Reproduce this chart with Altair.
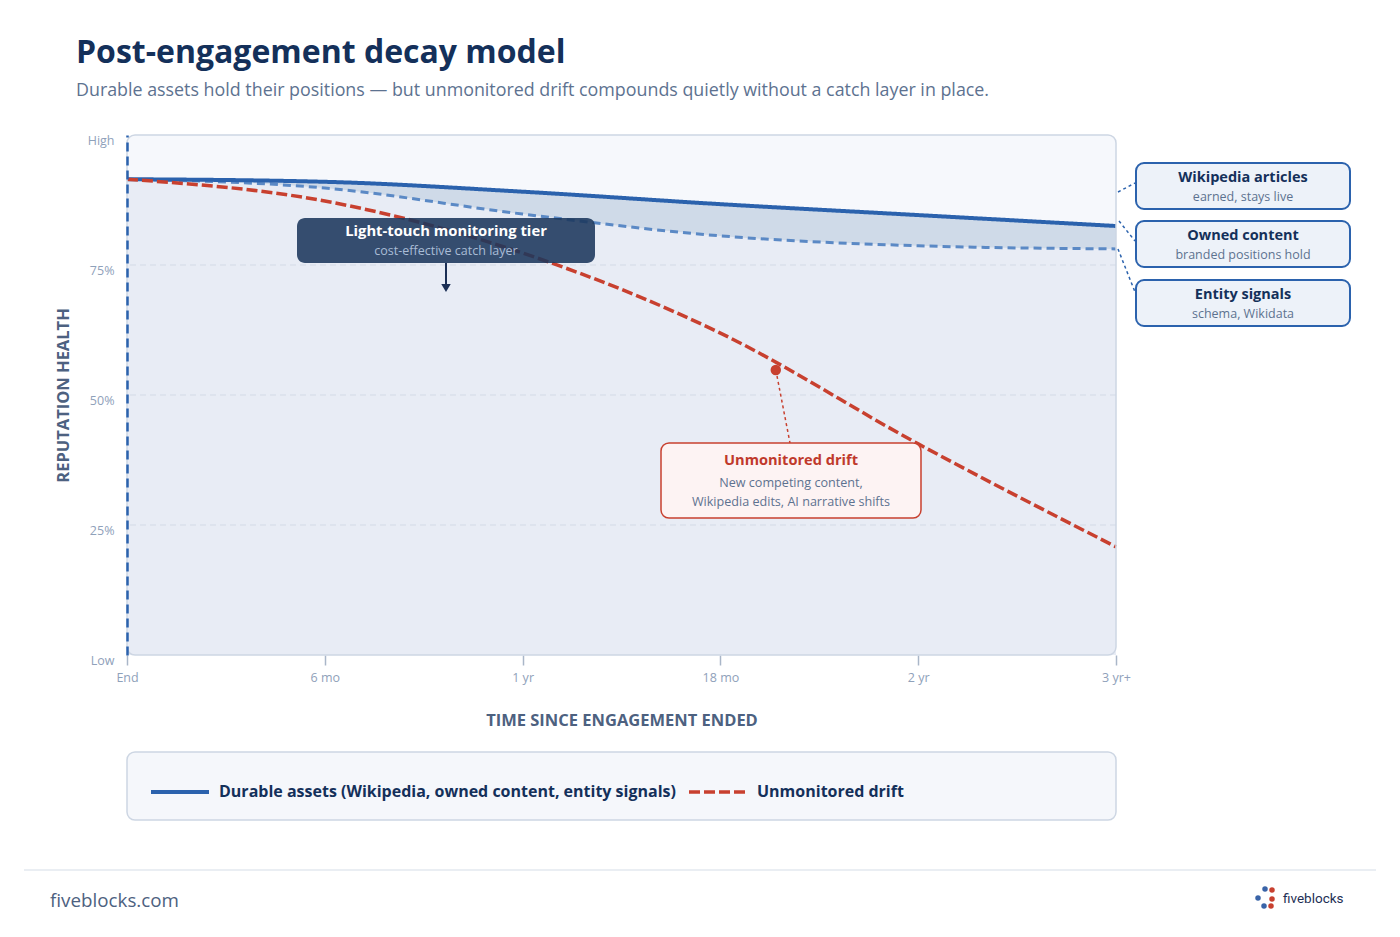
import json
import altair as alt
import pandas as pd

# ---------------- data ----------------
periods = ["End", "6 mo", "1 yr", "18 mo", "2 yr", "3 yr+"]
period_index = [0, 1, 2, 3, 4, 5]
durable = [91.5, 91.0, 89.1, 86.7, 84.6, 82.5]     # Wikipedia articles (solid)
owned = [91.5, 89.8, 84.8, 80.6, 78.7, 78.1]       # owned content / entity signals (light dashed)
drift = [91.5, 87.3, 77.3, 61.9, 40.6, 20.8]       # unmonitored drift (red dashed)
grid_values = [25, 50, 75]
y_ticks = [0, 25, 50, 75, 100]
series_names = ["Durable assets (Wikipedia, owned content, entity signals)", "Unmonitored drift"]
drift_marker_t = [3.28]
drift_marker_v = [54.8]

FONT = "Open Sans"
NAVY = "#14305a"
GRAY = "#5d7290"
BLUE = "#2b62ad"
LBLUE = "#5b89c5"
RED = "#c8402f"

wide = pd.DataFrame({"t": period_index, "durable": durable, "owned": owned, "drift": drift})
long = pd.DataFrame({
    "t": period_index * 2,
    "value": durable + drift,
    "series": [series_names[0]] * 6 + [series_names[1]] * 6,
})
grid_df = pd.DataFrame({"g": grid_values})
marker_df = pd.DataFrame({"t": drift_marker_t, "v": drift_marker_v})
one = alt.Data(values=[{"k": 0}])

W, H = 989, 520

xscale = alt.Scale(domain=[0, 5], nice=False, zero=False)
yscale = alt.Scale(domain=[0, 100], nice=False)

xaxis = alt.Axis(
    title="TIME SINCE ENGAGEMENT ENDED", values=period_index,
    labelExpr=json.dumps(periods) + "[datum.value]",
    labelFlush=False, domain=False, grid=False, ticks=True, tickSize=10,
    tickColor="#a9b6c8", tickWidth=1.5, labelColor="#8fa1ba", labelFontSize=12.5,
    labelFont=FONT, labelPadding=6, titleFont=FONT, titleFontSize=16.5,
    titleFontWeight="bold", titleColor="#4d6180", titlePadding=29,
)
yaxis = alt.Axis(
    title="REPUTATION HEALTH", values=y_ticks,
    labelExpr="datum.value == 100 ? 'High' : datum.value == 0 ? 'Low' : datum.value + '%'",
    labelFlush=False, grid=False, ticks=False, domain=True, domainColor=BLUE,
    domainDash=[9, 5], domainWidth=2.5, labelColor="#8fa1ba", labelFontSize=12.5,
    labelFont=FONT, labelPadding=13, labelOffset=5, titleFont=FONT, titleFontSize=16.5,
    titleFontWeight="bold", titleColor="#4d6180", titlePadding=16, zindex=1,
)


def X(f):
    return alt.X(f"{f}:Q", scale=xscale, axis=xaxis)


def Y(f):
    return alt.Y(f"{f}:Q", scale=yscale, axis=yaxis)


base = alt.Chart(wide)
under = base.mark_area(interpolate="monotone", color="#e8ecf5").encode(x=X("t"), y=Y("durable"))
band = base.mark_area(interpolate="monotone", color="#cfdae8").encode(
    x=X("t"), y=Y("durable"), y2="owned:Q")
grid = alt.Chart(grid_df).mark_rule(color="#d3dae6", strokeWidth=1, strokeDash=[6, 4]).encode(y=Y("g"))
owned_line = base.mark_line(interpolate="monotone", color=LBLUE, strokeWidth=3,
                            strokeDash=[8, 5]).encode(x=X("t"), y=Y("owned"))

legend = alt.Legend(
    orient="none", legendX=22, legendY=626, direction="horizontal", title=None,
    symbolType="stroke", symbolSize=3364, symbolStrokeWidth=4, labelFont=FONT,
    labelFontSize=16, labelFontWeight="bold", labelColor=NAVY, labelLimit=1000,
    labelOffset=8, columnPadding=6, padding=0,
)
lines = alt.Chart(long).mark_line(interpolate="monotone").encode(
    x=X("t"), y=Y("value"),
    color=alt.Color("series:N", scale=alt.Scale(domain=series_names, range=[BLUE, RED]), legend=legend),
    strokeDash=alt.StrokeDash("series:N", scale=alt.Scale(domain=series_names, range=[[1, 0], [11, 4]]), legend=legend),
    strokeWidth=alt.StrokeWidth("series:N", scale=alt.Scale(domain=series_names, range=[4, 3.5]), legend=None),
)

dot = alt.Chart(marker_df).mark_point(filled=True, size=110, color=RED, opacity=1).encode(x=X("t"), y=Y("v"))


def rect(x, x2, y, y2, **kw):
    return alt.Chart(one).mark_rect(**kw).encode(
        x=alt.value(x), x2=alt.value(x2), y=alt.value(y), y2=alt.value(y2))


def seg(x, y, x2, y2, **kw):
    return alt.Chart(one).mark_rule(**kw).encode(
        x=alt.value(x), x2=alt.value(x2), y=alt.value(y), y2=alt.value(y2))


def txt(s, x, y, size, color, weight="normal", align="center", font=FONT):
    return alt.Chart(one).mark_text(
        text=s, font=font, fontSize=size, fontWeight=weight, color=color,
        align=align, baseline="alphabetic").encode(x=alt.value(x), y=alt.value(y))


layers = [under, band, grid, owned_line, lines]

# light-touch monitoring tier annotation
layers += [
    rect(170, 468, 83, 128, fill="#1b375c", opacity=0.88, cornerRadius=8),
    txt("Light-touch monitoring tier", 319, 101, 14.8, "#ffffff", "bold"),
    txt("cost-effective catch layer", 319, 120, 12.5, "#a9bcd6"),
    seg(319, 128, 319, 150, color="#1b2f55", strokeWidth=2),
    alt.Chart(one).mark_point(shape="triangle-down", filled=True, size=90, color="#1b2f55",
                              opacity=1).encode(x=alt.value(319), y=alt.value(153)),
]

# unmonitored drift annotation
layers += [
    dot,
    seg(650, 241, 663, 308, color=RED, strokeWidth=1.5, strokeDash=[3, 3]),
    rect(534, 794, 308, 383, fill="#fdf3f3", stroke=RED, strokeWidth=1.5, cornerRadius=8),
    txt("Unmonitored drift", 664, 330, 14.6, "#c0392b", "bold"),
    txt("New competing content,", 664, 352, 12.6, GRAY),
    txt("Wikipedia edits, AI narrative shifts", 664, 371, 12.6, GRAY),
]

# plot border
layers.append(rect(0, W, 0, H, fillOpacity=0, stroke="#cdd6e3", strokeWidth=1.5, cornerRadius=8))

# right-side boxes
boxes = [
    ("Wikipedia articles", "earned, stays live", 28),
    ("Owned content", "branded positions hold", 86),
    ("Entity signals", "schema, Wikidata", 145),
]
for title, sub, top in boxes:
    layers += [
        rect(1009, 1223, top, top + 46, fill="#edf2f9", stroke=BLUE, strokeWidth=2, cornerRadius=8),
        txt(title, 1116, top + 19, 14.5, NAVY, "bold"),
        txt(sub, 1116, top + 38, 12.5, GRAY),
    ]
layers += [
    seg(991, 57, 1008, 48, color=BLUE, strokeWidth=1.5, strokeDash=[3, 3]),
    seg(992, 86, 1008, 106, color=BLUE, strokeWidth=1.5, strokeDash=[3, 3]),
    seg(991, 114, 1008, 157, color=BLUE, strokeWidth=1.5, strokeDash=[3, 3]),
]

# titles
layers += [
    txt("Post-engagement decay model", -51, -72, 32, NAVY, "bold", "left"),
    txt("Durable assets hold their positions \u2014 but unmonitored drift compounds quietly without a catch layer in place.",
        -51, -39, 17.85, GRAY, "normal", "left"),
]

# legend box (drawn beneath the legend)
layers.insert(0, rect(0, W, 617, 685, fill="#f5f7fb", stroke="#cdd6e3", strokeWidth=1.5, cornerRadius=8))

# footer
layers += [
    seg(-103, 735, 1249, 735, color="#e3e8ef", strokeWidth=1.5),
    txt("fiveblocks.com", -77, 772, 18.8, "#4d6180", "normal", "left"),
    txt("fiveblocks", 1156, 768, 13.5, "#1e2f55", "normal", "left", "Roboto"),
]
for (cx, cy, col) in [(1138, 754, "#3a64a8"), (1131, 763, "#3a64a8"), (1137, 771, "#3a64a8"),
                      (1145, 755, RED), (1145, 764, RED), (1144, 771, RED)]:
    layers.append(alt.Chart(one).mark_point(filled=True, size=30, color=col, opacity=1,
                                            shape="circle").encode(x=alt.value(cx), y=alt.value(cy)))

chart = alt.layer(*layers).properties(
    width=W, height=H,
    autosize=alt.AutoSizeParams(type="none"),
    padding={"left": 127, "top": 135, "right": 284, "bottom": 282},
).configure(background="white").configure_view(fill="#f6f8fc", stroke=None, cornerRadius=8)

chart.save("out.html", embed_options={"renderer": "svg", "actions": False})
